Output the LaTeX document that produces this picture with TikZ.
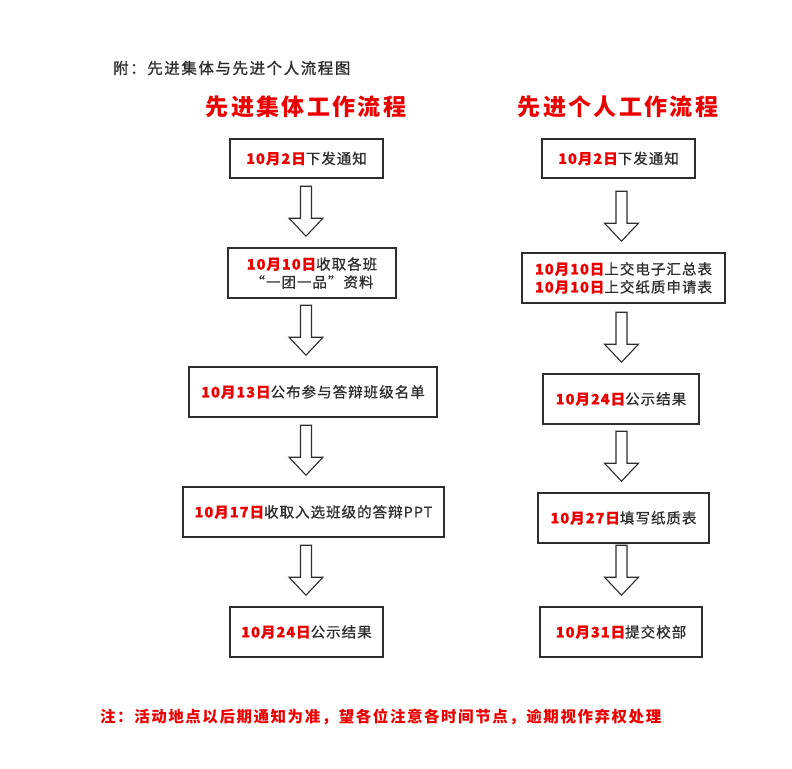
\documentclass[tikz,border=0pt]{standalone}
\usepackage{fontspec}
\setmainfont{Noto Sans CJK SC}
\newfontfamily\boxfont[LetterSpace=7, FakeBold=0.8]{Noto Sans CJK SC}
\newfontfamily\spacedfont[LetterSpace=10]{Noto Sans CJK SC}
\newfontfamily\capfont[LetterSpace=10, FakeBold=1]{Noto Sans CJK SC}
\usetikzlibrary{positioning,calc}
\definecolor{datered}{RGB}{235,0,0}
\definecolor{inkgray}{RGB}{45,45,45}
\tikzset{
x=1pt, y=-1pt, % one unit is one pixel of the page, y runs down
stage/.style={draw=inkgray, line width=1.6pt, inner sep=2pt, align=center, text=inkgray,
  font=\boxfont\fontsize{14.5}{18}\selectfont},
heading/.style={text=datered, font=\spacedfont\bfseries\fontsize{23}{26}\selectfont},
hollow/.style={draw=inkgray, line width=1.1pt, fill=white, line join=miter},
}
\newcommand{\dday}[1]{\textcolor{datered}{\bfseries#1}}
% hollow arrow on the column of #1, ending just above node #2
\newcommand{\flowarrow}[2]{
  \path ($(#1 |- #2.north)+(0,-11)$) coordinate (tip);
  \draw[hollow] (tip) -- ++(-17,-18) -- ++(11.5,0) -- ++(0,-32) -- ++(11,0) -- ++(0,32) -- ++(11.5,0) -- cycle;
}

\begin{document}
\begin{tikzpicture}
        \useasboundingbox (0,0) rectangle (792,768);
        \node[anchor=west, inner sep=0pt, text=inkgray, font=\capfont\fontsize{15.5}{18}\selectfont] at (113,68) (cap) {附：先进集体与先进个人流程图};
        \node[heading] at (306,107) (colL) {先进集体工作流程};
        \node[heading] at (618,107) (colR) {先进个人工作流程};
        % group flow
        \node[stage, minimum width=153, minimum height=39] at (306.5,158.5) (L1) {\dday{10月2日}下发通知};
        \node[stage, minimum width=168, minimum height=50] at (312,273) (L2) {\dday{10月10日}收取各班\\“一团一品”资料};
        \node[stage, minimum width=248, minimum height=50] at (313,392) (L3) {\dday{10月13日}公布参与答辩班级名单};
        \node[stage, minimum width=261, minimum height=50] at (313.5,512) (L4) {\dday{10月17日}收取入选班级的答辩PPT};
        \node[stage, minimum width=153, minimum height=50] at (306.5,632) (L5) {\dday{10月24日}公示结果};
        % personal flow
        \node[stage, minimum width=153, minimum height=39] at (618.5,158.5) (R1) {\dday{10月2日}下发通知};
        \node[stage, minimum width=203, minimum height=50] at (623.5,278) (R2) {\dday{10月10日}上交电子汇总表\\\dday{10月10日}上交纸质申请表};
        \node[stage, minimum width=156, minimum height=50] at (621,399) (R3) {\dday{10月24日}公示结果};
        \node[stage, minimum width=171, minimum height=50] at (623.5,518) (R4) {\dday{10月27日}填写纸质表};
        \node[stage, minimum width=162, minimum height=50] at (621,632) (R5) {\dday{10月31日}提交校部};
        \coordinate (axisR) at (621.5,0);
        \flowarrow{colL}{L2}
        \flowarrow{colL}{L3}
        \flowarrow{colL}{L4}
        \flowarrow{colL}{L5}
        \flowarrow{axisR}{R2}
        \flowarrow{axisR}{R3}
        \flowarrow{axisR}{R4}
        \flowarrow{axisR}{R5}
        \node[anchor=west, inner sep=0pt, text=datered, font=\spacedfont\bfseries\fontsize{15.5}{18}\selectfont] at (100,717) (note) {注：活动地点以后期通知为准，望各位注意各时间节点，逾期视作弃权处理};
\end{tikzpicture}
\end{document}
